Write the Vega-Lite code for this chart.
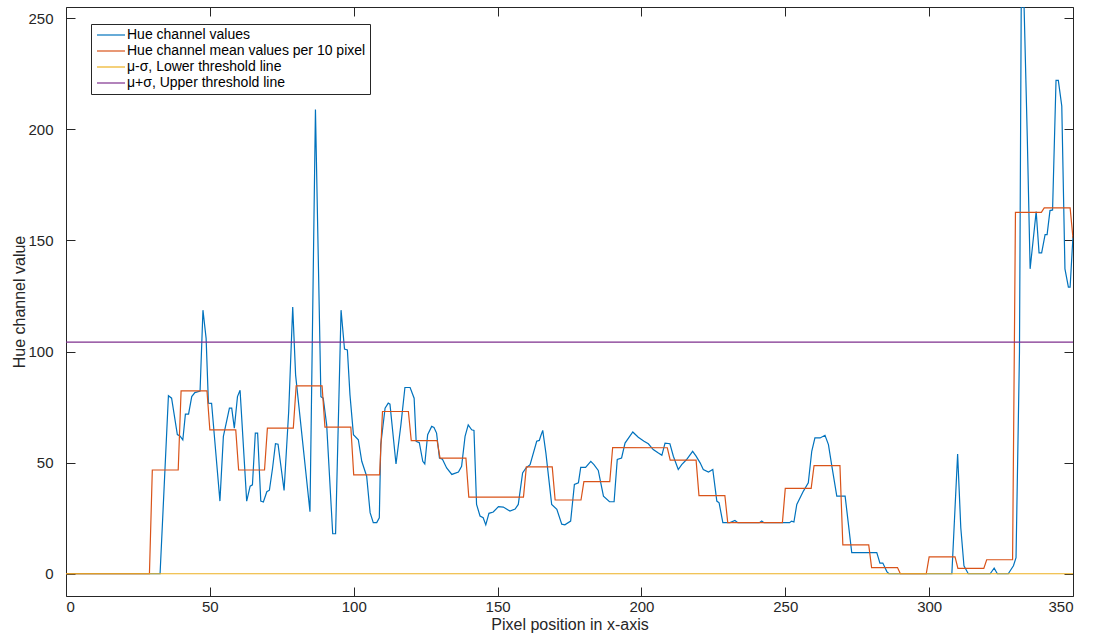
{
  "$schema": "https://vega.github.io/schema/vega-lite/v6.json",
  "width": 1007,
  "height": 589,
  "autosize": "none",
  "padding": {"left": 66, "top": 7, "right": 24, "bottom": 43},
  "background": "white",
  "config": {
    "view": {"stroke": "#262626", "strokeWidth": 1},
    "font": "Liberation Sans",
    "axis": {"domain": false, "grid": false, "tickColor": "#262626", "tickSize": -9, "tickWidth": 1, "labelColor": "#262626", "labelFontSize": 15, "titleFontSize": 16, "titleColor": "#262626", "titleFontWeight": "normal", "labelFont": "Liberation Sans", "titleFont": "Liberation Sans"}
  },
  "datasets": {
    "lines": [
      {"s": "hue", "x": 0, "y": 0}, {"s": "hue", "x": 32.7, "y": 0}, {"s": "hue", "x": 35.6, "y": 80.1}, {"s": "hue", "x": 36.7, "y": 79}, {"s": "hue", "x": 38.7, "y": 62.6}, {"s": "hue", "x": 39.6, "y": 62}, {"s": "hue", "x": 40.6, "y": 60.2}, {"s": "hue", "x": 41.5, "y": 71.8}, {"s": "hue", "x": 42.6, "y": 71.8}, {"s": "hue", "x": 43.7, "y": 79.7}, {"s": "hue", "x": 44.8, "y": 81.5}, {"s": "hue", "x": 46.6, "y": 82.2}, {"s": "hue", "x": 47.6, "y": 118.6}, {"s": "hue", "x": 48.7, "y": 105.9}, {"s": "hue", "x": 49.5, "y": 76.8}, {"s": "hue", "x": 50.6, "y": 76.7}, {"s": "hue", "x": 53.5, "y": 32.7}, {"s": "hue", "x": 54.7, "y": 61.8}, {"s": "hue", "x": 56.8, "y": 74.5}, {"s": "hue", "x": 57.6, "y": 74.5}, {"s": "hue", "x": 58.5, "y": 65.5}, {"s": "hue", "x": 59.6, "y": 79.7}, {"s": "hue", "x": 60.5, "y": 82.6}, {"s": "hue", "x": 62.8, "y": 32.7}, {"s": "hue", "x": 64, "y": 39.4}, {"s": "hue", "x": 64.8, "y": 40}, {"s": "hue", "x": 65.8, "y": 63.3}, {"s": "hue", "x": 66.6, "y": 63.3}, {"s": "hue", "x": 67.7, "y": 32.7}, {"s": "hue", "x": 68.6, "y": 32.3}, {"s": "hue", "x": 69.8, "y": 36.9}, {"s": "hue", "x": 70.7, "y": 37.6}, {"s": "hue", "x": 71.8, "y": 47.6}, {"s": "hue", "x": 72.8, "y": 58.5}, {"s": "hue", "x": 73.7, "y": 58.3}, {"s": "hue", "x": 75.8, "y": 37.5}, {"s": "hue", "x": 77.4, "y": 73}, {"s": "hue", "x": 78.8, "y": 120}, {"s": "hue", "x": 79.8, "y": 89.5}, {"s": "hue", "x": 84.8, "y": 27.9}, {"s": "hue", "x": 86.7, "y": 208.9}, {"s": "hue", "x": 88.6, "y": 79.7}, {"s": "hue", "x": 89.4, "y": 79}, {"s": "hue", "x": 90.6, "y": 67}, {"s": "hue", "x": 92.7, "y": 18}, {"s": "hue", "x": 93.7, "y": 18}, {"s": "hue", "x": 95.6, "y": 118.6}, {"s": "hue", "x": 96.8, "y": 101.1}, {"s": "hue", "x": 97.8, "y": 100.7}, {"s": "hue", "x": 98.7, "y": 80.5}, {"s": "hue", "x": 99.9, "y": 62.6}, {"s": "hue", "x": 101.6, "y": 60.3}, {"s": "hue", "x": 102.8, "y": 50.6}, {"s": "hue", "x": 104.5, "y": 43.9}, {"s": "hue", "x": 105.7, "y": 27.5}, {"s": "hue", "x": 106.8, "y": 23}, {"s": "hue", "x": 108, "y": 23}, {"s": "hue", "x": 108.9, "y": 25.2}, {"s": "hue", "x": 109.4, "y": 58.1}, {"s": "hue", "x": 110.9, "y": 74.5}, {"s": "hue", "x": 112, "y": 76.8}, {"s": "hue", "x": 112.6, "y": 76.3}, {"s": "hue", "x": 114.7, "y": 49.4}, {"s": "hue", "x": 116.4, "y": 67}, {"s": "hue", "x": 117.8, "y": 83.8}, {"s": "hue", "x": 119.6, "y": 83.8}, {"s": "hue", "x": 121, "y": 79}, {"s": "hue", "x": 121.7, "y": 59.6}, {"s": "hue", "x": 122.8, "y": 59}, {"s": "hue", "x": 124, "y": 50.6}, {"s": "hue", "x": 124.7, "y": 49.4}, {"s": "hue", "x": 125.7, "y": 62.6}, {"s": "hue", "x": 127.1, "y": 66.3}, {"s": "hue", "x": 127.9, "y": 65.8}, {"s": "hue", "x": 128.8, "y": 63.3}, {"s": "hue", "x": 129.8, "y": 52.1}, {"s": "hue", "x": 130.8, "y": 51.6}, {"s": "hue", "x": 132.3, "y": 47.6}, {"s": "hue", "x": 134.1, "y": 44.7}, {"s": "hue", "x": 136.4, "y": 45.8}, {"s": "hue", "x": 137.5, "y": 48.4}, {"s": "hue", "x": 138.7, "y": 61.8}, {"s": "hue", "x": 139.8, "y": 67}, {"s": "hue", "x": 141, "y": 64.8}, {"s": "hue", "x": 141.8, "y": 64.5}, {"s": "hue", "x": 142.7, "y": 31.2}, {"s": "hue", "x": 143.9, "y": 26}, {"s": "hue", "x": 145, "y": 25.2}, {"s": "hue", "x": 145.9, "y": 22}, {"s": "hue", "x": 147, "y": 27.2}, {"s": "hue", "x": 148.5, "y": 27.8}, {"s": "hue", "x": 150.3, "y": 30.2}, {"s": "hue", "x": 152, "y": 30}, {"s": "hue", "x": 154.3, "y": 28.2}, {"s": "hue", "x": 156.1, "y": 29.1}, {"s": "hue", "x": 157.2, "y": 31.2}, {"s": "hue", "x": 158.7, "y": 45.4}, {"s": "hue", "x": 159.9, "y": 47.6}, {"s": "hue", "x": 161.3, "y": 49.1}, {"s": "hue", "x": 163.6, "y": 59.6}, {"s": "hue", "x": 164.5, "y": 60}, {"s": "hue", "x": 165, "y": 62}, {"s": "hue", "x": 165.7, "y": 64.5}, {"s": "hue", "x": 166.8, "y": 54.3}, {"s": "hue", "x": 168.8, "y": 31.2}, {"s": "hue", "x": 170.6, "y": 29}, {"s": "hue", "x": 172.3, "y": 22.3}, {"s": "hue", "x": 173.4, "y": 22}, {"s": "hue", "x": 175.4, "y": 23.7}, {"s": "hue", "x": 176.7, "y": 40.2}, {"s": "hue", "x": 178.1, "y": 40.9}, {"s": "hue", "x": 178.9, "y": 47.9}, {"s": "hue", "x": 180.6, "y": 47.9}, {"s": "hue", "x": 182.4, "y": 50.6}, {"s": "hue", "x": 183.5, "y": 49.1}, {"s": "hue", "x": 185, "y": 46.5}, {"s": "hue", "x": 186.8, "y": 34.9}, {"s": "hue", "x": 188.9, "y": 32.4}, {"s": "hue", "x": 190.5, "y": 32.4}, {"s": "hue", "x": 191.6, "y": 51.4}, {"s": "hue", "x": 193.1, "y": 52.1}, {"s": "hue", "x": 194.3, "y": 58.8}, {"s": "hue", "x": 197, "y": 63.8}, {"s": "hue", "x": 198.9, "y": 61.4}, {"s": "hue", "x": 200.9, "y": 59.6}, {"s": "hue", "x": 202.4, "y": 58.5}, {"s": "hue", "x": 204.1, "y": 55.9}, {"s": "hue", "x": 205.9, "y": 54.3}, {"s": "hue", "x": 207.1, "y": 53.3}, {"s": "hue", "x": 208.2, "y": 58.8}, {"s": "hue", "x": 209.9, "y": 58.5}, {"s": "hue", "x": 211.1, "y": 52.9}, {"s": "hue", "x": 212.8, "y": 46.9}, {"s": "hue", "x": 214, "y": 49.1}, {"s": "hue", "x": 215.7, "y": 51.4}, {"s": "hue", "x": 217.8, "y": 55.1}, {"s": "hue", "x": 219, "y": 52.9}, {"s": "hue", "x": 220.4, "y": 49.9}, {"s": "hue", "x": 221.5, "y": 46.9}, {"s": "hue", "x": 223.3, "y": 45.8}, {"s": "hue", "x": 224.8, "y": 46.9}, {"s": "hue", "x": 226.2, "y": 32.7}, {"s": "hue", "x": 227, "y": 31.9}, {"s": "hue", "x": 228.3, "y": 23}, {"s": "hue", "x": 230.8, "y": 23}, {"s": "hue", "x": 232.5, "y": 24}, {"s": "hue", "x": 233.5, "y": 23}, {"s": "hue", "x": 241, "y": 23}, {"s": "hue", "x": 241.8, "y": 23.7}, {"s": "hue", "x": 242.6, "y": 23}, {"s": "hue", "x": 251.5, "y": 23}, {"s": "hue", "x": 252.2, "y": 23.7}, {"s": "hue", "x": 253, "y": 23.3}, {"s": "hue", "x": 254, "y": 31.2}, {"s": "hue", "x": 256.3, "y": 37.2}, {"s": "hue", "x": 258, "y": 40.9}, {"s": "hue", "x": 259.2, "y": 55.1}, {"s": "hue", "x": 260.3, "y": 61.1}, {"s": "hue", "x": 262.1, "y": 61.1}, {"s": "hue", "x": 263.8, "y": 62.3}, {"s": "hue", "x": 265, "y": 58.1}, {"s": "hue", "x": 266.1, "y": 49.1}, {"s": "hue", "x": 267.9, "y": 34.9}, {"s": "hue", "x": 270.8, "y": 34.9}, {"s": "hue", "x": 273.1, "y": 9.5}, {"s": "hue", "x": 281.8, "y": 9.5}, {"s": "hue", "x": 282.9, "y": 4.8}, {"s": "hue", "x": 283.9, "y": 4.8}, {"s": "hue", "x": 285.3, "y": 1}, {"s": "hue", "x": 286, "y": 0}, {"s": "hue", "x": 307.9, "y": 0}, {"s": "hue", "x": 309.9, "y": 53.9}, {"s": "hue", "x": 311, "y": 20.7}, {"s": "hue", "x": 312.1, "y": 3.6}, {"s": "hue", "x": 313.6, "y": 0}, {"s": "hue", "x": 321.2, "y": 0}, {"s": "hue", "x": 322.6, "y": 2.5}, {"s": "hue", "x": 323.7, "y": 0}, {"s": "hue", "x": 327.5, "y": 0}, {"s": "hue", "x": 329.3, "y": 3.6}, {"s": "hue", "x": 330.2, "y": 7.2}, {"s": "hue", "x": 331.4, "y": 100}, {"s": "hue", "x": 332, "y": 255}, {"s": "hue", "x": 333, "y": 255}, {"s": "hue", "x": 334.1, "y": 197}, {"s": "hue", "x": 335.1, "y": 137.2}, {"s": "hue", "x": 337.2, "y": 163}, {"s": "hue", "x": 338.2, "y": 144.4}, {"s": "hue", "x": 339.1, "y": 144.4}, {"s": "hue", "x": 340.3, "y": 152.6}, {"s": "hue", "x": 341, "y": 152.6}, {"s": "hue", "x": 342, "y": 163.4}, {"s": "hue", "x": 342.9, "y": 163.7}, {"s": "hue", "x": 344.1, "y": 222}, {"s": "hue", "x": 344.9, "y": 222}, {"s": "hue", "x": 346.1, "y": 210.4}, {"s": "hue", "x": 347.2, "y": 137.2}, {"s": "hue", "x": 348.4, "y": 129}, {"s": "hue", "x": 349, "y": 129}, {"s": "hue", "x": 350, "y": 152},
      {"s": "mean", "x": 0, "y": 0}, {"s": "mean", "x": 29, "y": 0}, {"s": "mean", "x": 30, "y": 46.7}, {"s": "mean", "x": 39, "y": 46.7}, {"s": "mean", "x": 40, "y": 82.3}, {"s": "mean", "x": 49, "y": 82.3}, {"s": "mean", "x": 50, "y": 64.7}, {"s": "mean", "x": 59, "y": 64.7}, {"s": "mean", "x": 60, "y": 46.7}, {"s": "mean", "x": 69, "y": 46.7}, {"s": "mean", "x": 70, "y": 65.5}, {"s": "mean", "x": 79, "y": 65.5}, {"s": "mean", "x": 80, "y": 84.5}, {"s": "mean", "x": 89, "y": 84.5}, {"s": "mean", "x": 90, "y": 66}, {"s": "mean", "x": 99, "y": 66}, {"s": "mean", "x": 100, "y": 44.5}, {"s": "mean", "x": 109, "y": 44.5}, {"s": "mean", "x": 110, "y": 73}, {"s": "mean", "x": 119, "y": 73}, {"s": "mean", "x": 120, "y": 59.9}, {"s": "mean", "x": 129, "y": 59.9}, {"s": "mean", "x": 130, "y": 52}, {"s": "mean", "x": 139, "y": 52}, {"s": "mean", "x": 140, "y": 34.5}, {"s": "mean", "x": 159, "y": 34.5}, {"s": "mean", "x": 160, "y": 48.1}, {"s": "mean", "x": 169, "y": 48.1}, {"s": "mean", "x": 170, "y": 33.2}, {"s": "mean", "x": 179, "y": 33.2}, {"s": "mean", "x": 180, "y": 41.5}, {"s": "mean", "x": 189, "y": 41.5}, {"s": "mean", "x": 190, "y": 56.8}, {"s": "mean", "x": 209, "y": 56.7}, {"s": "mean", "x": 210, "y": 51.1}, {"s": "mean", "x": 219, "y": 51.1}, {"s": "mean", "x": 220, "y": 35.2}, {"s": "mean", "x": 229, "y": 35.2}, {"s": "mean", "x": 230, "y": 23}, {"s": "mean", "x": 249, "y": 23}, {"s": "mean", "x": 250, "y": 38.4}, {"s": "mean", "x": 259, "y": 38.4}, {"s": "mean", "x": 260, "y": 48.7}, {"s": "mean", "x": 269, "y": 48.7}, {"s": "mean", "x": 270, "y": 13}, {"s": "mean", "x": 279, "y": 13}, {"s": "mean", "x": 280, "y": 2.8}, {"s": "mean", "x": 289, "y": 2.8}, {"s": "mean", "x": 290, "y": 0}, {"s": "mean", "x": 299, "y": 0}, {"s": "mean", "x": 300, "y": 7.6}, {"s": "mean", "x": 309, "y": 7.6}, {"s": "mean", "x": 310, "y": 2.4}, {"s": "mean", "x": 319, "y": 2.4}, {"s": "mean", "x": 320, "y": 6.3}, {"s": "mean", "x": 329, "y": 6.3}, {"s": "mean", "x": 330, "y": 162.6}, {"s": "mean", "x": 339, "y": 162.6}, {"s": "mean", "x": 340, "y": 164.6}, {"s": "mean", "x": 349, "y": 164.6}, {"s": "mean", "x": 350, "y": 151},
      {"s": "lower", "x": 0, "y": 0}, {"s": "lower", "x": 350, "y": 0},
      {"s": "upper", "x": 0, "y": 104.2}, {"s": "upper", "x": 350, "y": 104.2}
    ]
  },
  "data": {"name": "lines"},
  "resolve": {"axis": {"x": "independent", "y": "independent"}},
  "layer": [
    {
      "mark": {"type": "line", "strokeWidth": 1.2, "clip": true},
      "encoding": {
        "x": {"field": "x", "type": "quantitative", "scale": {"domain": [0, 350], "nice": false, "zero": false},
              "axis": {"orient": "bottom", "values": [0, 50, 100, 150, 200, 250, 300, 350], "title": "Pixel position in x-axis", "labelPadding": 12, "titlePadding": 2}},
        "y": {"field": "y", "type": "quantitative", "scale": {"domain": [-10, 255], "nice": false, "zero": false},
              "axis": {"orient": "left", "values": [0, 50, 100, 150, 200, 250], "title": "Hue channel value", "labelPadding": 22, "titlePadding": 0}},
        "color": {"field": "s", "type": "nominal",
                  "scale": {"domain": ["hue", "mean", "lower", "upper"], "range": ["#0072BD", "#D95319", "#EDB120", "#7E2F8E"]},
                  "legend": {"orient": "none", "legendX": 25, "legendY": 17, "title": null, "strokeColor": "#262626", "fillColor": "white", "padding": 4,
                             "symbolType": "M-1,0H4.6", "symbolSize": 100, "symbolStrokeWidth": 1.2, "labelFontSize": 14, "labelColor": "black", "labelFont": "Liberation Sans",
                             "rowPadding": 2, "labelOffset": 18, "labelLimit": 400,
                             "labelExpr": "datum.value == 'hue' ? 'Hue channel values' : datum.value == 'mean' ? 'Hue channel mean values per 10 pixel' : datum.value == 'lower' ? 'μ-σ, Lower threshold line' : 'μ+σ, Upper threshold line'"}},
        "detail": {"field": "s"}
      }
    },
    {
      "mark": {"type": "line", "opacity": 0},
      "encoding": {
        "x": {"field": "x", "type": "quantitative", "axis": {"orient": "top", "values": [0, 50, 100, 150, 200, 250, 300, 350], "labels": false, "title": null}},
        "y": {"field": "y", "type": "quantitative", "axis": {"orient": "right", "values": [0, 50, 100, 150, 200, 250], "labels": false, "title": null}}
      }
    }
  ]
}
